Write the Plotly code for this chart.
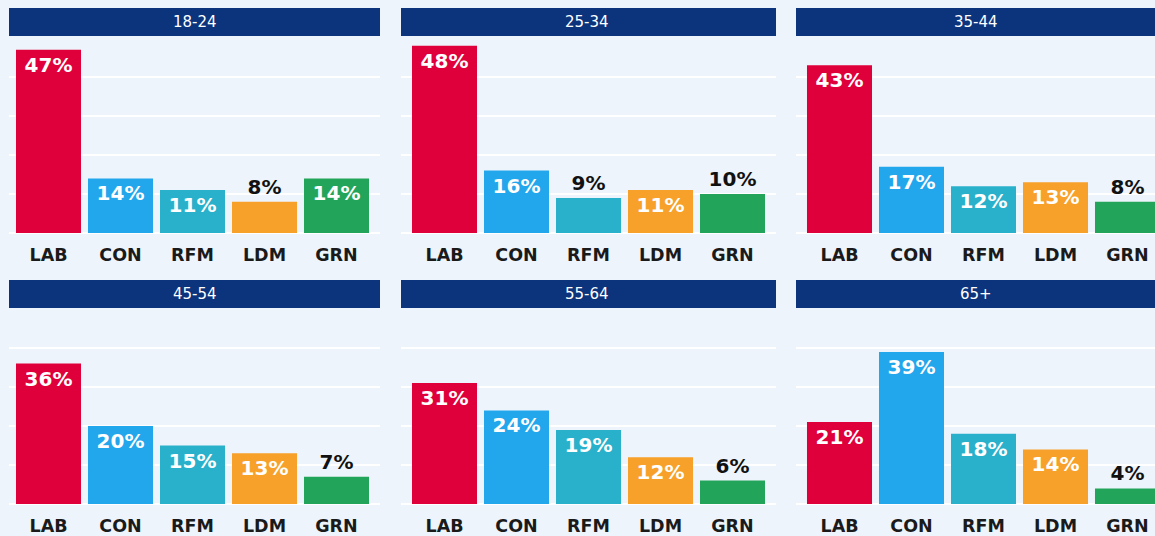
import plotly.graph_objects as go

parties = ["LAB", "CON", "RFM", "LDM", "GRN"]
colors = ["#DF003B", "#22A6EC", "#29B0CA", "#F7A12A", "#22A55A"]
groups = ["18-24", "25-34", "35-44", "45-54", "55-64", "65+"]
v_18_24 = [47, 14, 11, 8, 14]
v_25_34 = [48, 16, 9, 11, 10]
v_35_44 = [43, 17, 12, 13, 8]
v_45_54 = [36, 20, 15, 13, 7]
v_55_64 = [31, 24, 19, 12, 6]
v_65p = [21, 39, 18, 14, 4]
values = [v_18_24, v_25_34, v_35_44, v_45_54, v_55_64, v_65p]

W, H = 1155, 536
BG = "#EEF4FB"
NAVY = "#0C347D"
FONT = "DejaVu Sans"

# panel geometry in pixels
col_dom = [(9, 380), (401, 776), (796, 1155)]
col_c0 = [48.5, 444.5, 839.5]
slot = 72.0
row_plot = [(38, 233), (309, 504)]
row_head = [(8, 36), (280, 308)]

fig = go.Figure()
shapes = []
annotations = []
layout_axes = {}

for i, (g, vals) in enumerate(zip(groups, values)):
    r, c = divmod(i, 3)
    n = i + 1
    xa = "x" if n == 1 else f"x{n}"
    ya = "y" if n == 1 else f"y{n}"
    xl = "xaxis" if n == 1 else f"xaxis{n}"
    yl = "yaxis" if n == 1 else f"yaxis{n}"
    x0, x1 = col_dom[c]
    y0, y1 = row_plot[r]
    pos = ["inside" if v > 10 else "outside" for v in vals]
    fig.add_trace(go.Bar(
        x=parties, y=vals, xaxis=xa, yaxis=ya,
        marker=dict(color=colors, line=dict(width=0)),
        text=[f"{v}%" for v in vals], textposition=pos,
        insidetextanchor="end",
        insidetextfont=dict(color="white", size=20, family=FONT, weight=700),
        outsidetextfont=dict(color="#111111", size=20, family=FONT, weight=700),
        textangle=0, cliponaxis=False, hoverinfo="skip", showlegend=False,
    ))
    layout_axes[xl] = dict(
        domain=[x0 / W, x1 / W], anchor=ya,
        range=[(x0 - col_c0[c]) / slot, (x1 - col_c0[c]) / slot],
        showgrid=False, zeroline=False, showline=False, ticks="",
        tickfont=dict(size=17.5, color="#1A1A1A", family=FONT, weight=700),
        ticklabelstandoff=9,
        fixedrange=True,
    )
    layout_axes[yl] = dict(
        domain=[(H - y1) / H, (H - y0) / H], anchor=xa,
        range=[0, 50], dtick=10, showgrid=True, gridcolor="white", gridwidth=2,
        zeroline=True, zerolinecolor="white", zerolinewidth=2,
        showticklabels=False, ticks="", showline=False, fixedrange=True,
    )
    hy0, hy1 = row_head[r]
    shapes.append(dict(type="rect", xref="paper", yref="paper",
                       x0=x0 / W, x1=x1 / W, y0=(H - hy1) / H, y1=(H - hy0) / H,
                       fillcolor=NAVY, line=dict(width=0), layer="above"))
    annotations.append(dict(text=g, xref="paper", yref="paper",
                            x=(x0 + min(x1, x0 + 371)) / 2 / W, y=(H - (hy0 + hy1) / 2) / H,
                            xanchor="center", yanchor="middle", showarrow=False,
                            font=dict(color="white", size=15, family=FONT)))

fig.update_layout(
    width=W, height=H, margin=dict(l=0, r=0, t=0, b=0),
    paper_bgcolor=BG, plot_bgcolor=BG, bargap=0.097,
    shapes=shapes, annotations=annotations, **layout_axes,
)

fig.write_html("out.html", config={"displayModeBar": False},
               post_script="document.body.style.margin='0';")
